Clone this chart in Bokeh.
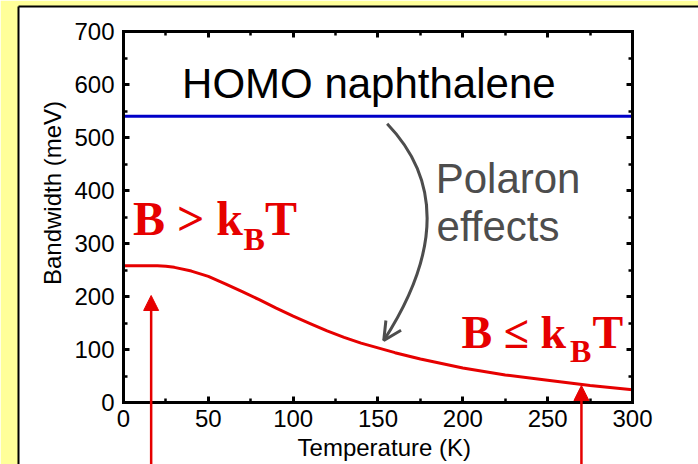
from bokeh.plotting import figure
from bokeh.models import (Range1d, LinearAxis, SingleIntervalTicker, FixedTicker, Label,
                          Arrow, NormalHead, OpenHead, GlobalInlineStyleSheet)
from bokeh.embed import file_html
from bokeh.resources import INLINE

# ---------------- data ----------------
temperature = [0, 10, 20, 25, 30, 40, 50, 60, 70, 80, 90, 100, 110, 120, 130,
               140, 150, 160, 175, 200, 225, 250, 275, 300]
bandwidth_polaron = [258, 258, 258, 257, 255, 248, 238, 224, 209, 194, 178, 163,
                     149, 135, 123, 112, 103, 94, 82, 65, 52, 42, 32, 24]
homo_temperature = [0, 300]
homo_bandwidth = [540, 540]
x_axis_bounds = (0, 300)
y_axis_bounds = (0, 700)
x_tick_interval = 50
y_tick_interval = 100
arrow_temperature = [16.3, 269.9]
arrow_tip_bandwidth = [201.9, 32.0]

RED = "#E60000"
BLUE = "#0000C8"
GRAY = "#4D4D4D"
SANS = "Liberation Sans"
SERIF = "Liberation Serif"

# the white panel is the plot frame; the axes sit at fixed data locations inside it
p = figure(width=698, height=464, output_backend="svg", toolbar_location=None,
           x_range=Range1d(-61.886, 338.90), y_range=Range1d(-116.98, 747.17),
           min_border_left=18, min_border_right=0, min_border_top=6,
           min_border_bottom=0, x_axis_type=None, y_axis_type=None)
p.stylesheets = [GlobalInlineStyleSheet(css="html, body { margin: 0; padding: 0; overflow: hidden; }")]
p.border_fill_color = "#FFFF99"
p.background_fill_color = "white"
p.outline_line_color = None
p.grid.visible = False

# black edge of the white panel (left and top only)
for side in ("left", "above"):
    edge = LinearAxis(ticker=FixedTicker(ticks=[]), axis_line_width=2,
                      axis_line_color="black", major_tick_in=0, major_tick_out=0,
                      minor_tick_in=0, minor_tick_out=0, major_label_text_font_size="0px",
                      major_label_standoff=0)
    p.add_layout(edge, side)


def make_axis(interval, loc, bounds, show_labels):
    ax = LinearAxis(ticker=SingleIntervalTicker(interval=interval, num_minor_ticks=2),
                    fixed_location=loc, bounds=bounds)
    ax.axis_line_width = 3
    ax.axis_line_color = "black"
    ax.axis_line_cap = "square"
    ax.major_tick_in = 6
    ax.major_tick_out = 0
    ax.minor_tick_in = 4
    ax.minor_tick_out = 0
    ax.major_tick_line_width = 3
    ax.minor_tick_line_width = 2.5
    ax.major_tick_line_color = "black"
    ax.minor_tick_line_color = "black"
    if show_labels:
        ax.major_label_text_font = SANS
        ax.major_label_text_font_size = "24px"
        ax.major_label_text_color = "black"
    else:
        ax.major_label_text_font_size = "0px"
        ax.major_label_text_alpha = 0
    return ax


xb = make_axis(x_tick_interval, y_axis_bounds[0], x_axis_bounds, True)
xb.major_label_standoff = 7
p.add_layout(xb, "below")
yl = make_axis(y_tick_interval, x_axis_bounds[0], y_axis_bounds, True)
yl.major_label_standoff = 9
p.add_layout(yl, "left")
p.add_layout(make_axis(x_tick_interval, y_axis_bounds[1], x_axis_bounds, False), "above")
p.add_layout(make_axis(y_tick_interval, x_axis_bounds[1], y_axis_bounds, False), "right")

# lines
p.line(homo_temperature, homo_bandwidth, line_color=BLUE, line_width=3)
p.line(temperature, bandwidth_polaron, line_color=RED, line_width=3)

# curved gray arrow
p.quadratic(x0=155.4, y0=525.8, x1=153.4, y1=117.0, cx=203.5, cy=365.5,
            line_color=GRAY, line_width=3)
p.add_layout(Arrow(end=OpenHead(size=18, line_width=3, line_color=GRAY),
                   x_start=154.9, y_start=124.5, x_end=153.4, y_end=117.0,
                   line_color=GRAY, line_width=3))

# red arrows from below
for xa, ya in zip(arrow_temperature, arrow_tip_bandwidth):
    p.add_layout(Arrow(end=NormalHead(size=15, fill_color=RED, line_color=RED, line_width=1),
                       x_start=xa, y_start=-160, x_end=xa, y_end=ya,
                       line_color=RED, line_width=2.5))


def lab(x, y, text, size, color, font, style="normal", align="left", angle=0):
    p.add_layout(Label(x=x, y=y, text=text, text_font=font, text_font_size=f"{size}px",
                       text_color=color, text_font_style=style, text_align=align,
                       text_baseline="alphabetic", angle=angle, angle_units="deg"))


# axis titles
lab(153.7, -84.7, "Temperature (K)", 24, "black", SANS, align="center")
lab(-41.6, 395.3, "Bandwidth (meV)", 24, "black", SANS, align="center", angle=90)

lab(144.6, 602.7, "HOMO naphthalene", 42, "black", SANS, align="center")
lab(184.0, 422.8, "Polaron", 42, GRAY, SANS)
lab(184.5, 331.7, "effects", 42, GRAY, SANS)

lab(5.6, 346.9, "B > k", 48, RED, SERIF, "bold")
lab(70.8, 308.5, "B", 32, RED, SERIF, "bold")
lab(83.4, 346.9, "T", 48, RED, SERIF, "bold")

lab(199.2, 132.2, "B \u2264 k", 46, RED, SERIF, "bold")
lab(263.2, 96.4, "B", 32, RED, SERIF, "bold")
lab(276.4, 132.2, "T", 46, RED, SERIF, "bold")

open("out.html", "w").write(file_html(p, INLINE))
